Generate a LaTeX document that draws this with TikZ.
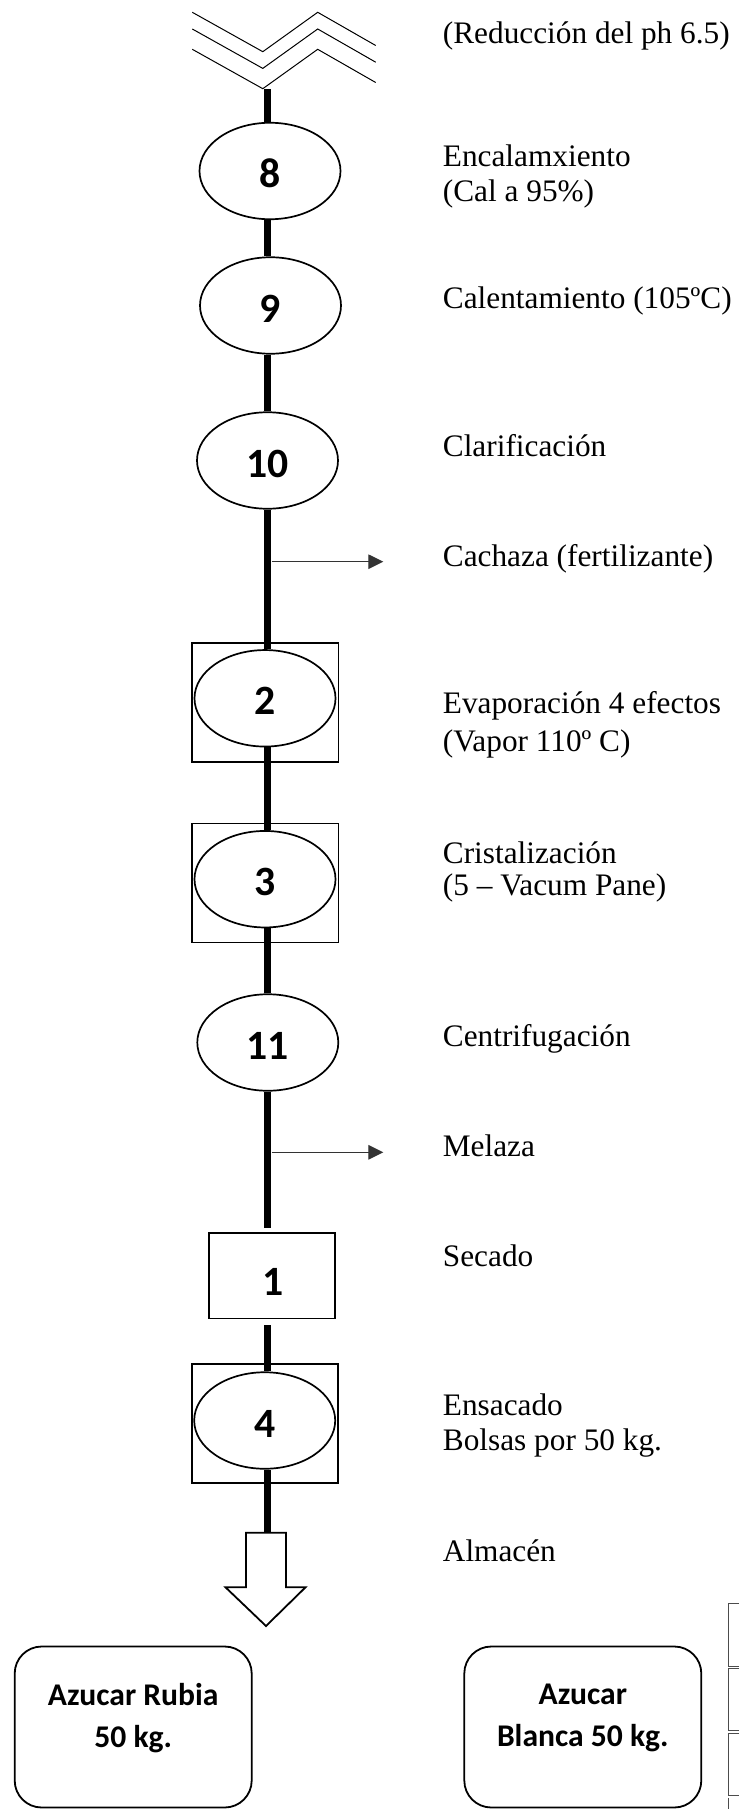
\documentclass[tikz,border=0pt]{standalone}
\usepackage{fontspec}
\setmainfont{Liberation Serif}
\newfontfamily\calibri{Carlito}
\usetikzlibrary{shapes,arrows.meta,calc,positioning}

\begin{document}
\begin{tikzpicture}[x=1pt,y=-1pt,
  paso/.style={ellipse,draw,line width=1.7pt,minimum width=141pt,minimum height=96.5pt,
    inner sep=0pt,font=\calibri\bfseries\fontsize{41.7}{42}\selectfont,
    text height=33pt,text depth=0pt},
  marco/.style={rectangle,draw,line width=1.6pt,minimum width=146.5pt,minimum height=119pt},
  caja/.style={rectangle,rounded corners=27pt,draw,line width=1.8pt,
    minimum width=237pt,minimum height=161pt},
  cajatxt/.style={align=center,font=\calibri\bfseries\fontsize{31.6}{42.7}\selectfont},
  lbl/.style={anchor=base west,inner sep=0pt,font=\fontsize{31.3}{35}\selectfont},
  flujo/.style={line width=7pt},
  salida/.style={line width=1.3pt,black!80,-{Triangle[length=15pt,width=14.5pt]}}]
      \fill[white] (0,0) rectangle (739,1809);
      \useasboundingbox (0,0) rectangle (739,1809);
      % cut line at the top
      \foreach \dy in {0,16.7,37}
        \draw[line width=1pt] (192.3,12.3+\dy) -- (262.8,51.7+\dy) --
        (317.7,12.3+\dy) -- (375.7,45.5+\dy);
      \coordinate (corte) at (267,89.3);
      \coordinate (eje) at (267,0);
      % process steps
      \node[paso] (e8) at (270,171) {8};
      \node[paso] (e9) at (270.5,305.5) {9};
      \node[paso] (e10) at (267.5,460.5) {10};
      \node[marco] (b2) at (265.4,702.5) {};
      \node[paso] (e2) at (265,698.3) {2};
      \node[marco] (b3) at (265.4,883) {};
      \node[paso] (e3) at (265,879.2) {3};
      \node[paso] (e11) at (267.8,1042.5) {11};
      \node[rectangle,draw,line width=1.6pt,minimum width=125.5pt,minimum height=85.5pt,
        font=\calibri\bfseries\fontsize{41.7}{42}\selectfont,text height=39pt,text depth=0pt]
        (b1) at (272,1275.8) {\hspace{3pt}1};
      \node[marco] (b4) at (265,1423.7) {};
      \node[paso] (e4) at (264.7,1420.5) {4};
      \coordinate (almtop) at (266,1532.7);
      % main flow
      \draw[flujo] (corte) -- (e8.north -| eje);
      \foreach \a/\b in {e8/e9,e9/e10,e10/e2,e2/e3,e3/e11}
        \draw[flujo] (\a.south -| eje) -- (\b.north -| eje);
      \draw[flujo] (e11.south -| eje) -- ($(b1.north -| eje)+(0,-4)$);
      \draw[flujo] ($(b1.south -| eje)+(0,6)$) -- (e4.north -| eje);
      \draw[flujo] (e4.south -| eje) -- (almtop -| eje);
      % outputs
      \coordinate (cachaza) at (383.3,561.7);
      \coordinate (melaza) at (383.3,1152.3);
      \draw[salida] ($(eje |- cachaza)+(4.5,0)$) -- (cachaza);
      \draw[salida] ($(eje |- melaza)+(4.5,0)$) -- (melaza);
      % storage arrow
      \draw[line width=1.8pt] ($(almtop)+(-20,0)$) -- ($(almtop)+(-20,54.6)$) --
      ($(almtop)+(-40.5,54.6)$) -- ($(almtop)+(0,93.3)$) -- ($(almtop)+(39.5,54.6)$) --
      ($(almtop)+(20,54.6)$) -- ($(almtop)+(20,0)$) -- cycle;
      % step texts
      \node[lbl] (t7) at (442.7,44) {(Reducción del ph 6.5)};
      \node[lbl] (t8) at (442.7,166.7) {Encalamxiento};
      \node[lbl] (t8b) at (442.7,201.5) {(Cal a 95\%)};
      \node[lbl] (t9) at (442.7,308.3) {Calentamiento (105ºC)};
      \node[lbl] (t10) at (442.7,456.7) {Clarificación};
      \node[lbl] (tcach) at (442.7,566.7) {Cachaza (fertilizante)};
      \node[lbl] (t2) at (442.7,713) {Evaporación 4 efectos};
      \node[lbl] (t2b) at (442.7,751) {(Vapor 110º C)};
      \node[lbl] (t3) at (442.7,863) {Cristalización};
      \node[lbl] (t3b) at (442.7,895) {(5 – Vacum Pane)};
      \node[lbl] (t11) at (442.7,1046.7) {Centrifugación};
      \node[lbl] (tmel) at (442.7,1156) {Melaza};
      \node[lbl] (t1) at (442.7,1266.7) {Secado};
      \node[lbl] (t4) at (442.7,1415) {Ensacado};
      \node[lbl] (t4b) at (442.7,1450.7) {Bolsas por 50 kg.};
      \node[lbl] (talm) at (442.7,1561.7) {Almacén};
      % products
      \node[caja] (rubia) at (133.2,1727) {};
      \node[cajatxt] (rubiatxt) at ($(rubia.center)+(0,-9)$) {Azucar Rubia\\50 kg.};
      \node[caja] (blanca) at (582.8,1727) {};
      \node[cajatxt] (blancatxt) at ($(blanca.center)+(0,-9)$) {Azucar\\Blanca 50 kg.};
      % table cut at the edge
      \foreach \ya/\yb in {1603.3/1666,1668.5/1730.5,1733/1795}
        \draw[black!70,line width=0.8pt] (739,\ya) -- (728.3,\ya) -- (728.3,\yb) -- (739,\yb);
      \draw[black!70,line width=0.8pt] (728.3,1797.5) -- (728.3,1809);
\end{tikzpicture}
\end{document}
